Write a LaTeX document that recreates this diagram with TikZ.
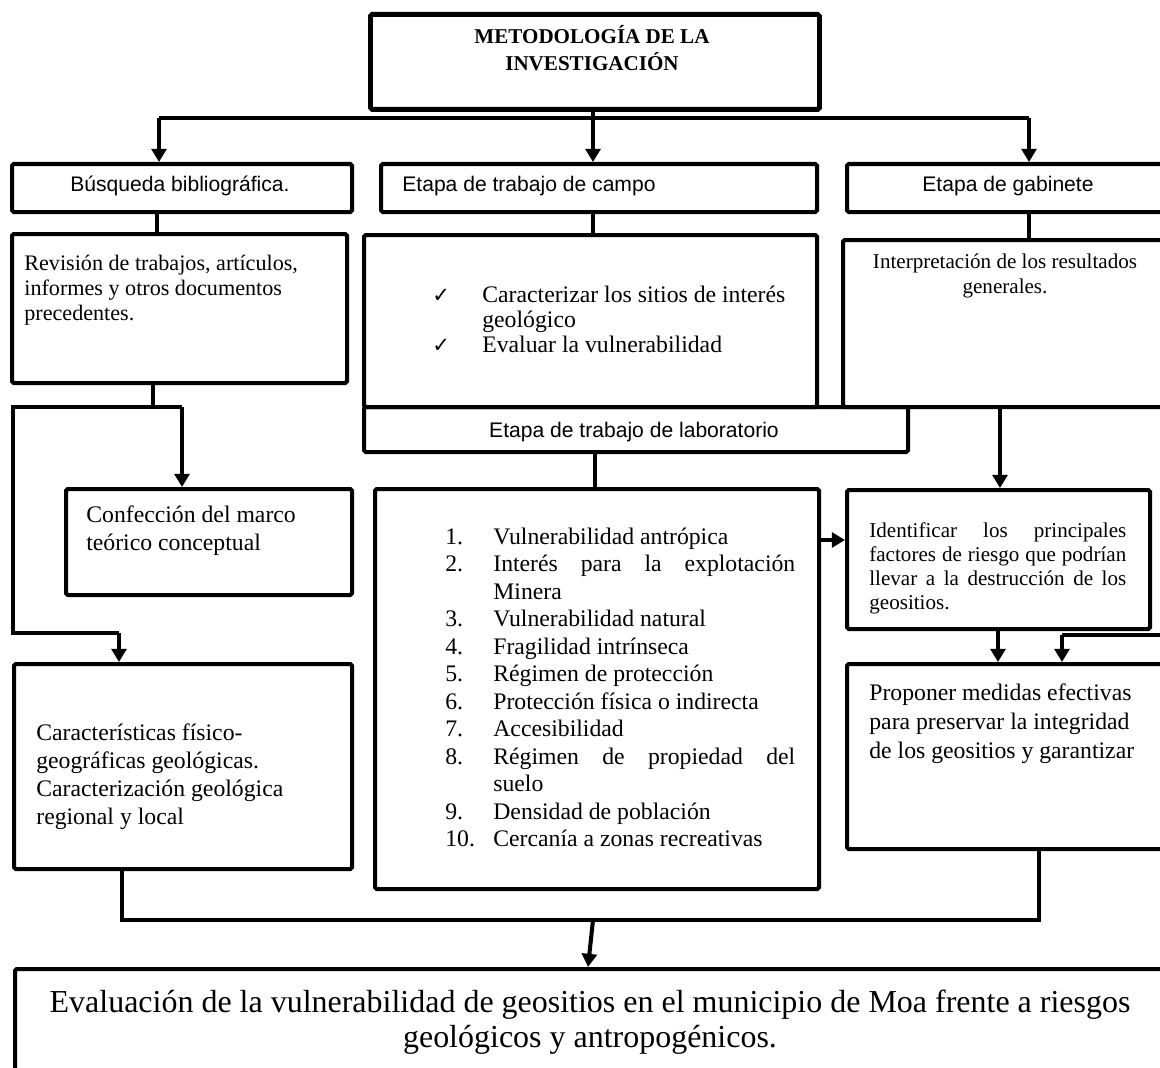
\documentclass[tikz,border=0pt]{standalone}
\usepackage{fontspec}
\setmainfont{Liberation Serif}
\newfontfamily\arialf{Liberation Sans}
\newfontfamily\djv{DejaVu Sans}
\usetikzlibrary{arrows.meta}
\newcommand\bxnode[5]{\node[bx, minimum width={(#4-#2)*0.02cm}, minimum height={(#5-#3)*0.02cm}] (#1) at (#2,#3) {};}
\begin{document}
\begin{tikzpicture}[x=0.02cm,y=-0.02cm,
  bx/.style={draw, line width=2.3pt, rounded corners=1pt, inner sep=0pt, anchor=north west},
  conn/.style={line width=2.3pt},
  arr/.style={line width=2.3pt, -{Triangle[width=8.5pt,length=7.5pt]}},
  tl/.style={inner sep=0pt, anchor=base west},
  tc/.style={inner sep=0pt, anchor=base},
  sans/.style={font=\arialf\fontsize{12}{14}\selectfont},
  ser/.style={font=\fontsize{12}{14}\selectfont},
  serb/.style={font=\fontsize{13.5}{15}\selectfont},
]
\useasboundingbox (0,0) rectangle (1160,1068);
% boxes
\node[bx, line width=2.8pt, minimum width={(817-368)*0.02cm}, minimum height={(107-12)*0.02cm}] (title) at (368,12) {};
\bxnode{busq}{10}{162}{350}{210}
\bxnode{campoh}{379}{162}{815}{210}
\bxnode{gabh}{845}{162}{1185}{210}
\bxnode{rev}{10}{232}{345}{381}
\bxnode{campo}{362}{233}{815}{405}
\bxnode{gab}{841}{238}{1185}{405}
\bxnode{lab}{362}{405}{906}{450}
\bxnode{conf}{64}{487}{350}{593}
\bxnode{lista}{373}{487}{817}{887}
\bxnode{ident}{845}{488}{1148}{627}
\bxnode{car}{12}{662}{350}{867}
\bxnode{prop}{845}{662}{1185}{847}
\bxnode{eval}{13}{967}{1185}{1095}
% texts
\node[tc, font=\bfseries\fontsize{12}{14}\selectfont] (t1) at (592,44) {METODOLOGÍA DE LA};
\node[tc, font=\bfseries\fontsize{12}{14}\selectfont] (t2) at (592,71) {INVESTIGACIÓN};
\node[tc, sans] (t3) at (180,192) {Búsqueda bibliográfica.};
\node[tl, sans] (t4) at (402,192) {Etapa de trabajo de campo};
\node[tc, sans] (t5) at (1008,192) {Etapa de gabinete};
\node[tl, font=\fontsize{12.6}{14}\selectfont] (t6) at (24,270) {Revisión de trabajos, artículos,};
\node[tl, font=\fontsize{12.6}{14}\selectfont] (t7) at (24,295) {informes y otros documentos};
\node[tl, font=\fontsize{12.6}{14}\selectfont] (t8) at (24,320) {precedentes.};
\node[tl, font=\djv\fontsize{12}{14}\selectfont] (c1) at (432,302) {✓};
\node[tl, font=\djv\fontsize{12}{14}\selectfont] (c2) at (432,352) {✓};
\node[tl, serb] (t9) at (482,302) {Caracterizar los sitios de interés};
\node[tl, serb] (t10) at (482,327) {geológico};
\node[tl, serb] (t11) at (482,352) {Evaluar la vulnerabilidad};
\node[tc, ser] (t12) at (1005,268) {Interpretación de los resultados};
\node[tc, ser] (t13) at (1005,293) {generales.};
\node[tc, sans] (t14) at (634,437) {Etapa de trabajo de laboratorio};
\node[tl, serb] (t15) at (86,522) {Confección del marco};
\node[tl, serb] (t16) at (86,550) {teórico conceptual};
\node[tl, serb] (t17) at (36,740) {Características físico-};
\node[tl, serb] (t18) at (36,768) {geográficas geológicas.};
\node[tl, serb] (t19) at (36,796) {Caracterización geológica};
\node[tl, serb] (t20) at (36,824) {regional y local};
% list
\foreach \n/\yy/\tx [count=\i] in {1./544/Vulnerabilidad antrópica,
  2./571.5/{\makebox[6.04cm][s]{Interés para la explotación}},
  /599/Minera,
  3./626.5/Vulnerabilidad natural,
  4./654/Fragilidad intrínseca,
  5./681.5/Régimen de protección,
  6./709/Protección física o indirecta,
  7./736.5/Accesibilidad,
  8./764/{\makebox[6.04cm][s]{Régimen de propiedad del}},
  /791.5/suelo,
  9./819/Densidad de población,
  10./846.5/Cercanía a zonas recreativas}{
  \node[tl, serb] (ln\i) at (445,\yy) {\n};
  \node[tl, serb] (lt\i) at (493,\yy) {\tx};
}
\node[tl, ser] (t21) at (869,537) {\makebox[5.14cm][s]{Identificar los principales}};
\node[tl, ser] (t22) at (869,561) {\makebox[5.14cm][s]{factores de riesgo que podrían}};
\node[tl, ser] (t23) at (869,585) {\makebox[5.14cm][s]{llevar a la destrucción de los}};
\node[tl, ser] (t24) at (869,609) {geositios.};
\node[tl, serb] (t25) at (869,700) {Proponer medidas efectivas};
\node[tl, serb] (t26) at (869,729) {para preservar la integridad};
\node[tl, serb] (t27) at (869,758) {de los geositios y garantizar};
\node[tc, font=\fontsize{18.2}{21}\selectfont] (t28) at (590,1012) {Evaluación de la vulnerabilidad de geositios en el municipio de Moa frente a riesgos};
\node[tc, font=\fontsize{18.2}{21}\selectfont] (t29) at (590,1047) {geológicos y antropogénicos.};
% connectors
\coordinate (jt) at (593,118);
\coordinate (jl) at (159,118);
\coordinate (jr) at (1029,118);
\draw[conn] (jt |- title.south) -- (jt);
\draw[conn] (jl) -- (jr);
\draw[arr] (jl) -- (jl |- busq.north);
\draw[arr] (jt) -- (jt |- campoh.north);
\draw[arr] (jr) -- (jr |- gabh.north);
\coordinate (k1) at (157,210);
\draw[conn] (k1) -- (k1 |- rev.north);
\coordinate (k2) at (593,210);
\draw[conn] (k2) -- (k2 |- campo.north);
\coordinate (k3) at (1029,210);
\draw[conn] (k3) -- (k3 |- gab.north);
\coordinate (r1) at (153,407);
\draw[conn] (r1 |- rev.south) -- (r1);
\coordinate (r2) at (13,407);
\coordinate (r3) at (182,407);
\draw[conn] (r3) -- (r2) -- (13,633) -- (119,633);
\draw[arr] (r3) -- (r3 |- conf.north);
\draw[arr] (119,633) -- (119,662);
\coordinate (l1) at (595,450);
\draw[conn] (l1) -- (l1 |- lista.north);
\draw[arr] (lista.east |- 0,540) -- (ident.west |- 0,540);
\coordinate (g1) at (1000,405);
\draw[arr] (g1) -- (g1 |- ident.north);
\coordinate (i1) at (998,627);
\draw[arr] (i1) -- (i1 |- prop.north);
\coordinate (p1) at (1062,635);
\draw[conn] (1175,635) -- (p1);
\draw[arr] (p1) -- (p1 |- prop.north);
\coordinate (b1) at (122,920);
\coordinate (b2) at (1039,920);
\draw[conn] (b1 |- car.south) -- (b1) -- (b2) -- (b2 |- prop.south);
\coordinate (m1) at (593,920);
\draw[arr] (m1) -- (588,967);
\end{tikzpicture}
\end{document}
